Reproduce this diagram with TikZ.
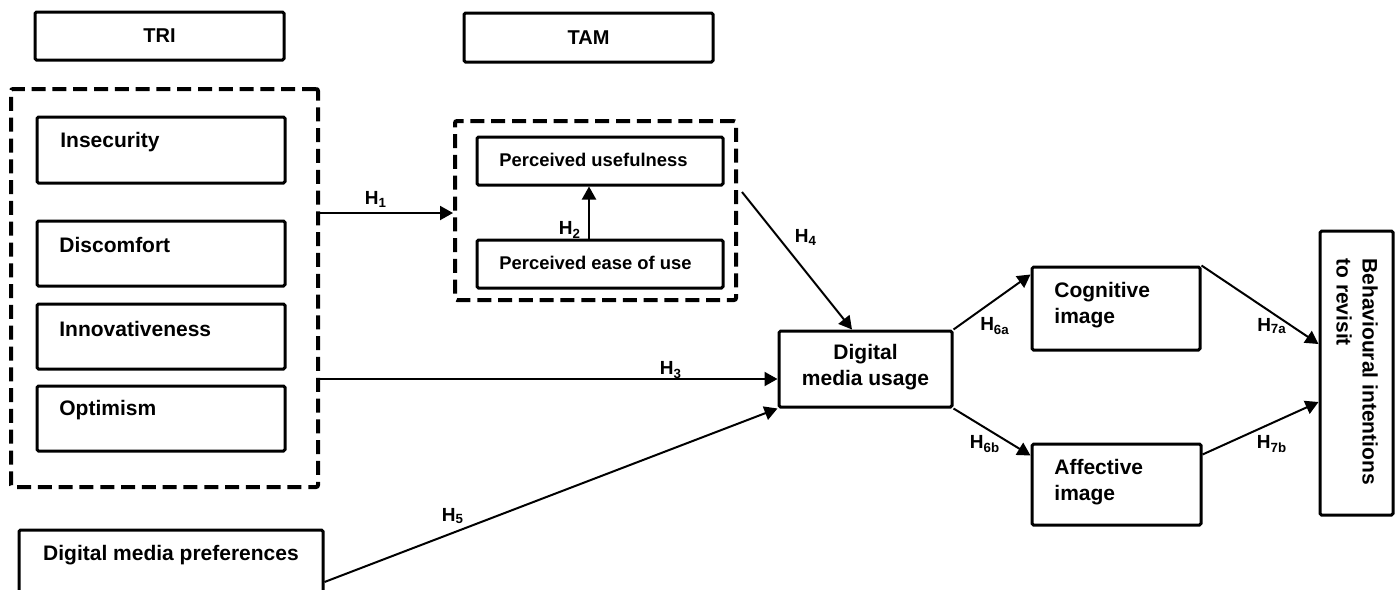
\documentclass[tikz,border=0pt]{standalone}
\usepackage{fontspec}
\setmainfont{Liberation Sans}
\usetikzlibrary{arrows.meta,calc}

\begin{document}
\begin{tikzpicture}[x=0.5pt,y=-0.5pt,
  box/.style={draw,line width=1.5pt,rounded corners=0.8pt,inner sep=0pt},
  group/.style={draw,line width=2pt,dash pattern=on 7pt off 3.4pt,rounded corners=1pt,inner sep=0pt},
  body/.style={inner sep=0pt,font=\fontsize{10.5}{13}\selectfont\bfseries},
  small/.style={inner sep=0pt,font=\fontsize{9.2}{11}\selectfont\bfseries},
  head/.style={font=\fontsize{10}{12}\selectfont\bfseries},
  hyp/.style={inner sep=0pt,font=\fontsize{9.5}{11}\selectfont\bfseries},
  link/.style={line width=1pt,-{Triangle[length=6.5pt,width=7pt]}},
]
\useasboundingbox (0,0) rectangle (1400,589);

% theory headings
\node[box,head,minimum width=124.5pt,minimum height=24pt] (tri) at (159.5,36) {TRI};
\node[box,head,minimum width=124.5pt,minimum height=24.5pt] (tam) at (588.5,37.5) {TAM};

% TRI dimensions
\node[group,minimum width=153.5pt,minimum height=199pt] (tridash) at (164.5,288) {};
\node[box,minimum width=124pt,minimum height=33pt] (insec) at (161,150) {};
\node[box,minimum width=124pt,minimum height=32.5pt] (disc) at (161,253.5) {};
\node[box,minimum width=124pt,minimum height=32.5pt] (innov) at (161,336.5) {};
\node[box,minimum width=124pt,minimum height=32.5pt] (optim) at (161,418.5) {};
\node[body,anchor=west] (insectxt) at (60,142) {Insecurity};
\node[body,anchor=west] (disctxt) at (59,245) {Discomfort};
\node[body,anchor=west] (innovtxt) at (59,329) {Innovativeness};
\node[body,anchor=west] (optimtxt) at (59,410) {Optimism};

% TAM constructs
\node[group,minimum width=140.5pt,minimum height=89.5pt] (tamdash) at (595.5,210.5) {};
\node[box,minimum width=123pt,minimum height=24pt] (pu) at (600,161) {};
\node[box,minimum width=123pt,minimum height=24pt] (peou) at (600,264) {};
\node[small,anchor=west] (putxt) at (499,160) {Perceived usefulness};
\node[small,anchor=west] (peoutxt) at (499,263) {Perceived ease of use};

% other constructs
\node[box,minimum width=152pt,minimum height=35pt] (dmp) at (171,565) {};
\node[body] (dmptxt) at (171,555) {Digital media preferences};
\node[box,body,align=center,minimum width=86.5pt,minimum height=38pt] (dmu) at (865.5,369) {};
\node[body,align=center] (dmutxt) at (865.5,367) {Digital\\media usage};
\node[box,minimum width=84pt,minimum height=41.5pt] (cog) at (1116,308.5) {};
\node[body,align=left,anchor=west] (cogtxt) at (1054,305) {Cognitive\\image};
\node[box,minimum width=84.5pt,minimum height=40.5pt] (aff) at (1116.5,484.5) {};
\node[body,align=left,anchor=west] (afftxt) at (1054,482) {Affective\\image};
\node[box,minimum width=36.5pt,minimum height=142pt] (bir) at (1356.5,373) {};
\node[body,align=left,rotate=-90,anchor=west] (birtxt) at (1357,258) {Behavioural intentions\\to revisit};

% hypothesised paths
\draw[link] ($(tridash.east)+(0,-75)$) -- ($(tamdash.west)+(0,2.5)$);
\draw[link] ($(peou.north)+(-11,0)$) -- ($(pu.south)+(-11,0)$);
\draw[link] ($(tridash.east)+(0,91)$) -- ($(dmu.west)+(0,10)$);
\draw[link] ($(tamdash.east)+(4,-18.5)$) -- ($(dmu.north)+(-13.5,0)$);
\draw[link] ($(dmp.east)+(0,17)$) -- (dmu.south west);
\draw[link] (dmu.north east) -- ($(cog.north west)+(0,9)$);
\draw[link] (dmu.south east) -- ($(aff.north west)+(0,13)$);
\draw[link] (cog.north east) -- ($(bir.west)+(0,-29)$);
\draw[link] ($(aff.north east)+(0,12)$) -- ($(bir.west)+(0,29)$);

% path labels
\node[hyp] (h1) at (376,199) {H\textsubscript{1}};
\node[hyp] (h2) at (570,230) {H\textsubscript{2}};
\node[hyp] (h3) at (671,370) {H\textsubscript{3}};
\node[hyp] (h4) at (806,237) {H\textsubscript{4}};
\node[hyp] (h5) at (453,516) {H\textsubscript{5}};
\node[hyp] (h6a) at (995,326) {H\textsubscript{6a}};
\node[hyp] (h6b) at (985,444) {H\textsubscript{6b}};
\node[hyp] (h7a) at (1272,326) {H\textsubscript{7a}};
\node[hyp] (h7b) at (1272,444) {H\textsubscript{7b}};
\end{tikzpicture}
\end{document}
